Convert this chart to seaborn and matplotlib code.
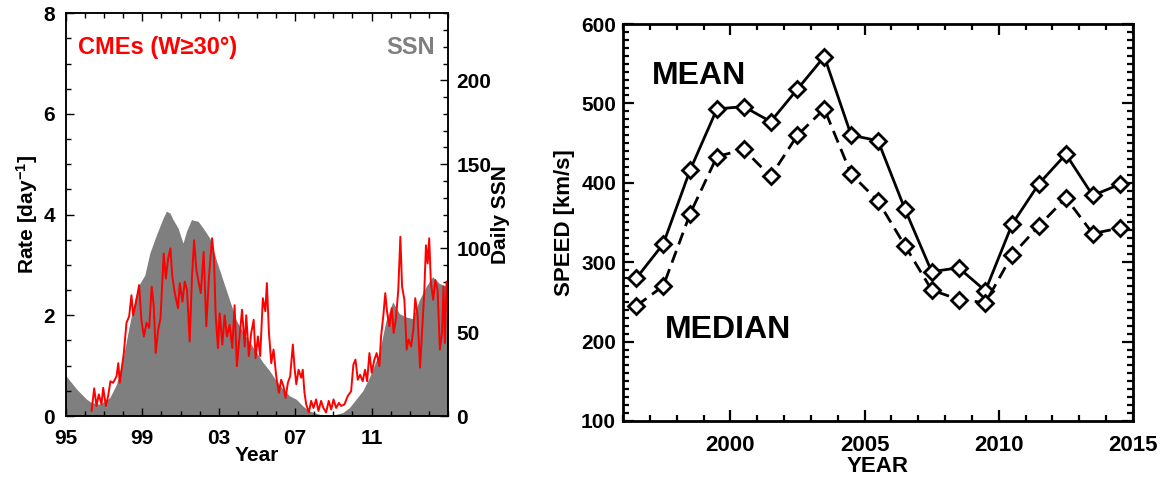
import numpy as np
import pandas as pd
import matplotlib.pyplot as plt
import matplotlib.ticker as mticker
import seaborn as sns

sns.set_style("ticks")
plt.rcParams['font.family'] = ['Liberation Sans', 'DejaVu Sans']
plt.rcParams['font.weight'] = 'bold'
plt.rcParams['axes.labelweight'] = 'bold'
plt.rcParams['mathtext.fontset'] = 'custom'
plt.rcParams['mathtext.bf'] = 'Liberation Sans:bold'
plt.rcParams['mathtext.rm'] = 'Liberation Sans:bold'
plt.rcParams['mathtext.default'] = 'bf'
for k in ['text.color', 'axes.labelcolor', 'xtick.color', 'ytick.color']:
    plt.rcParams[k] = 'black'

# --- left panel: CME rate (W>=30 deg) and daily sunspot number ---
cme_year = [1996.34, 1996.48, 1996.60, 1996.72, 1996.86, 1996.95, 1997.09, 1997.21, 1997.33, 1997.47,
            1997.65, 1997.74, 1997.82, 1997.91, 1998.03, 1998.17, 1998.31, 1998.43, 1998.52, 1998.66,
            1998.83, 1998.95, 1999.08, 1999.22, 1999.36, 1999.49, 1999.60, 1999.70, 1999.83, 1999.95,
            2000.12, 2000.23, 2000.35, 2000.47, 2000.57, 2000.70, 2000.87, 2000.96, 2001.10, 2001.22,
            2001.34, 2001.48, 2001.60, 2001.71, 2001.83, 2001.93, 2002.06, 2002.21, 2002.35, 2002.49,
            2002.65, 2002.75, 2002.84, 2002.96, 2003.05, 2003.19, 2003.31, 2003.43, 2003.57, 2003.71,
            2003.83, 2003.95, 2004.09, 2004.22, 2004.36, 2004.44, 2004.58, 2004.70, 2004.83, 2004.93,
            2005.05, 2005.17, 2005.31, 2005.44, 2005.52, 2005.63, 2005.75, 2005.87, 2006.01, 2006.15,
            2006.27, 2006.39, 2006.50, 2006.62, 2006.74, 2006.88, 2006.97, 2007.06, 2007.18, 2007.32,
            2007.40, 2007.49, 2007.58, 2007.72, 2007.84, 2007.96, 2008.10, 2008.22, 2008.36, 2008.48,
            2008.62, 2008.76, 2008.89, 2009.01, 2009.15, 2009.29, 2009.41, 2009.58, 2009.76, 2009.93,
            2010.05, 2010.16, 2010.28, 2010.40, 2010.54, 2010.66, 2010.77, 2010.89, 2011.01, 2011.15,
            2011.27, 2011.41, 2011.50, 2011.62, 2011.72, 2011.81, 2011.93, 2012.06, 2012.16, 2012.28,
            2012.40, 2012.51, 2012.60, 2012.72, 2012.84, 2012.94, 2013.07, 2013.19, 2013.29, 2013.41,
            2013.54, 2013.64, 2013.76, 2013.85, 2013.94, 2014.02, 2014.11, 2014.23, 2014.34, 2014.46,
            2014.58, 2014.69, 2014.77, 2014.84, 2014.93]
cme_rate = [0.10, 0.55, 0.20, 0.43, 0.23, 0.56, 0.20, 0.40, 0.69, 0.66,
            0.79, 1.05, 0.66, 0.92, 1.25, 1.85, 1.98, 2.40, 2.00, 2.24,
            2.60, 1.91, 1.58, 1.85, 1.75, 2.57, 2.17, 1.25, 1.71, 1.94,
            3.23, 2.73, 3.13, 3.33, 2.77, 2.44, 2.14, 2.64, 2.27, 2.67,
            2.50, 1.48, 2.77, 3.49, 2.90, 2.70, 2.44, 3.26, 1.78, 2.77,
            3.53, 3.16, 2.00, 1.35, 2.04, 1.42, 2.00, 1.58, 1.81, 1.35,
            2.20, 0.99, 1.58, 2.11, 1.38, 2.00, 1.19, 1.65, 1.91, 1.15,
            1.58, 1.19, 2.34, 2.08, 2.64, 1.65, 1.05, 1.32, 0.79, 0.46,
            0.72, 0.59, 0.36, 0.66, 0.79, 1.42, 0.96, 0.63, 0.92, 0.76,
            0.92, 0.46, 0.23, 0.07, 0.30, 0.16, 0.33, 0.10, 0.30, 0.16,
            0.07, 0.30, 0.13, 0.33, 0.16, 0.26, 0.20, 0.23, 0.40, 0.49,
            1.02, 1.12, 0.72, 0.82, 0.69, 0.92, 0.69, 1.25, 0.86, 1.12,
            1.25, 0.99, 1.58, 2.00, 2.44, 2.08, 1.78, 2.14, 1.65, 1.94,
            2.50, 3.56, 2.57, 2.31, 1.32, 1.52, 1.38, 1.71, 2.34, 2.00,
            0.96, 1.65, 2.44, 3.39, 3.03, 3.53, 2.64, 2.31, 2.70, 2.50,
            1.32, 1.65, 2.57, 1.45, 2.67]

ssn_year = [1995.00, 1995.56, 1996.08, 1996.34, 1996.78, 1997.30, 1997.65, 1998.00, 1998.34, 1998.61,
            1998.87, 1999.13, 1999.39, 1999.74, 2000.09, 2000.26, 2000.44, 2000.61, 2000.87, 2001.13,
            2001.31, 2001.57, 2001.92, 2002.18, 2002.53, 2002.87, 2003.22, 2003.57, 2003.92, 2004.27,
            2004.62, 2004.97, 2005.31, 2005.66, 2006.01, 2006.36, 2006.71, 2007.06, 2007.40, 2007.75,
            2008.28, 2008.97, 2009.49, 2009.84, 2010.19, 2010.54, 2010.89, 2011.24, 2011.41, 2011.76,
            2012.11, 2012.46, 2012.80, 2013.15, 2013.50, 2013.85, 2014.20, 2014.55, 2015.00]
ssn_value = [24, 16, 10, 8, 7, 11, 19, 35, 55, 70,
             79, 84, 97, 108, 118, 122, 121, 117, 112, 103,
             110, 117, 116, 112, 106, 93, 81, 69, 57, 50,
             44, 38, 32, 27, 21, 16, 12, 10, 6, 3,
             1, 0.5, 2, 5, 10, 15, 23, 33, 38, 57,
             68, 61, 59, 58, 69, 77, 83, 79, 77]

year_ticks = [1995, 1999, 2003, 2007, 2011]
year_labels = ['95', '99', '03', '07', '11']

# --- right panel: yearly CME speed ---
speed_year = [1996.5, 1997.5, 1998.5, 1999.5, 2000.5, 2001.5, 2002.5, 2003.5, 2004.5, 2005.5,
              2006.5, 2007.5, 2008.5, 2009.5, 2010.5, 2011.5, 2012.5, 2013.5, 2014.5]
speed_mean = [280, 323, 416, 493, 496, 477, 518, 559, 460, 453,
              367, 288, 293, 264, 348, 399, 436, 384, 398]
speed_median = [245, 270, 361, 433, 442, 408, 460, 493, 411, 377,
                321, 265, 253, 249, 309, 346, 381, 336, 343]

cme = pd.DataFrame({'year': cme_year, 'rate': cme_rate})
ssn = pd.DataFrame({'year': ssn_year, 'ssn': ssn_value})
speed = pd.DataFrame({'year': speed_year, 'mean': speed_mean, 'median': speed_median})

fig = plt.figure(figsize=(11.61, 4.83), dpi=100)

# left panel
ax1 = fig.add_axes([0.0568, 0.1387, 0.329, 0.834])
ax1r = ax1.twinx()
ax1r.fill_between(ssn['year'], 0, ssn['ssn'], color='#7f7f7f', lw=0)
ax1.set_zorder(ax1r.get_zorder() + 1)
ax1.patch.set_visible(False)
sns.lineplot(data=cme, x='year', y='rate', ax=ax1, color='red', lw=1.4, estimator=None)

ax1.set_xlim(1995, 2015)
ax1.set_ylim(0, 8)
ax1r.set_ylim(0, 240)
ax1.xaxis.set_major_locator(mticker.FixedLocator(year_ticks))
ax1.set_xticklabels(year_labels)
ax1.xaxis.set_minor_locator(mticker.MultipleLocator(1))
ax1.yaxis.set_major_locator(mticker.MultipleLocator(2))
ax1.yaxis.set_minor_locator(mticker.MultipleLocator(0.5))
ax1r.yaxis.set_major_locator(mticker.MultipleLocator(50))
ax1r.yaxis.set_minor_locator(mticker.MultipleLocator(10))
ax1.tick_params(which='both', direction='in', top=True, labelsize=15, width=1)
ax1.tick_params(which='major', length=6)
ax1.tick_params(which='minor', length=3.5)
ax1.tick_params(axis='x', pad=9)
ax1.tick_params(axis='y', pad=8)
ax1r.tick_params(which='both', direction='in', labelsize=15, width=1, pad=6)
ax1r.tick_params(which='major', length=6)
ax1r.tick_params(which='minor', length=3.5)
ax1.set_xlabel('Year', fontsize=15, labelpad=-1)
ax1.set_ylabel('Rate [day$^{-1}$]', fontsize=15, labelpad=2)
ax1r.set_ylabel('Daily SSN', fontsize=15, labelpad=0)
for sp in list(ax1.spines.values()) + list(ax1r.spines.values()):
    sp.set_linewidth(1.1)
    sp.set_color('black')
ax1.text(0.031, 0.916, 'CMEs (W≥30°)', color='red', fontsize=17, fontweight='bold',
         transform=ax1.transAxes, va='center', ha='left')
ax1.text(0.966, 0.916, 'SSN', color='#7f7f7f', fontsize=17, fontweight='bold',
         transform=ax1.transAxes, va='center', ha='right')

# right panel
ax2 = fig.add_axes([0.5366, 0.1284, 0.4393, 0.8219])
sns.lineplot(data=speed, x='year', y='mean', ax=ax2, color='black', lw=2,
             marker='D', markersize=8, markerfacecolor='white', markeredgecolor='black',
             markeredgewidth=2, estimator=None)
sns.lineplot(data=speed, x='year', y='median', ax=ax2, color='black', lw=2,
             linestyle=(0, (4.5, 2.5)), marker='D', markersize=8, markerfacecolor='white',
             markeredgecolor='black', markeredgewidth=2, estimator=None)
ax2.set_xlim(1996, 2015)
ax2.set_ylim(100, 600)
ax2.xaxis.set_major_locator(mticker.MultipleLocator(5))
ax2.xaxis.set_minor_locator(mticker.MultipleLocator(1))
ax2.yaxis.set_major_locator(mticker.MultipleLocator(100))
ax2.yaxis.set_minor_locator(mticker.MultipleLocator(10))
ax2.tick_params(which='both', direction='in', top=True, right=True, width=1.6)
ax2.tick_params(which='major', length=8)
ax2.tick_params(which='minor', length=4)
ax2.tick_params(axis='x', labelsize=16, pad=10)
ax2.tick_params(axis='y', labelsize=15, pad=5)
ax2.set_xlabel('YEAR', fontsize=16, labelpad=0)
ax2.set_ylabel('SPEED [km/s]', fontsize=16, labelpad=4)
for sp in ax2.spines.values():
    sp.set_linewidth(2)
    sp.set_color('black')
ax2.text(1997.08, 534, 'MEAN', fontsize=23, fontweight='bold', va='center', ha='left')
ax2.text(1997.55, 215, 'MEDIAN', fontsize=23, fontweight='bold', va='center', ha='left')

fig.savefig('out.png', dpi=100)
